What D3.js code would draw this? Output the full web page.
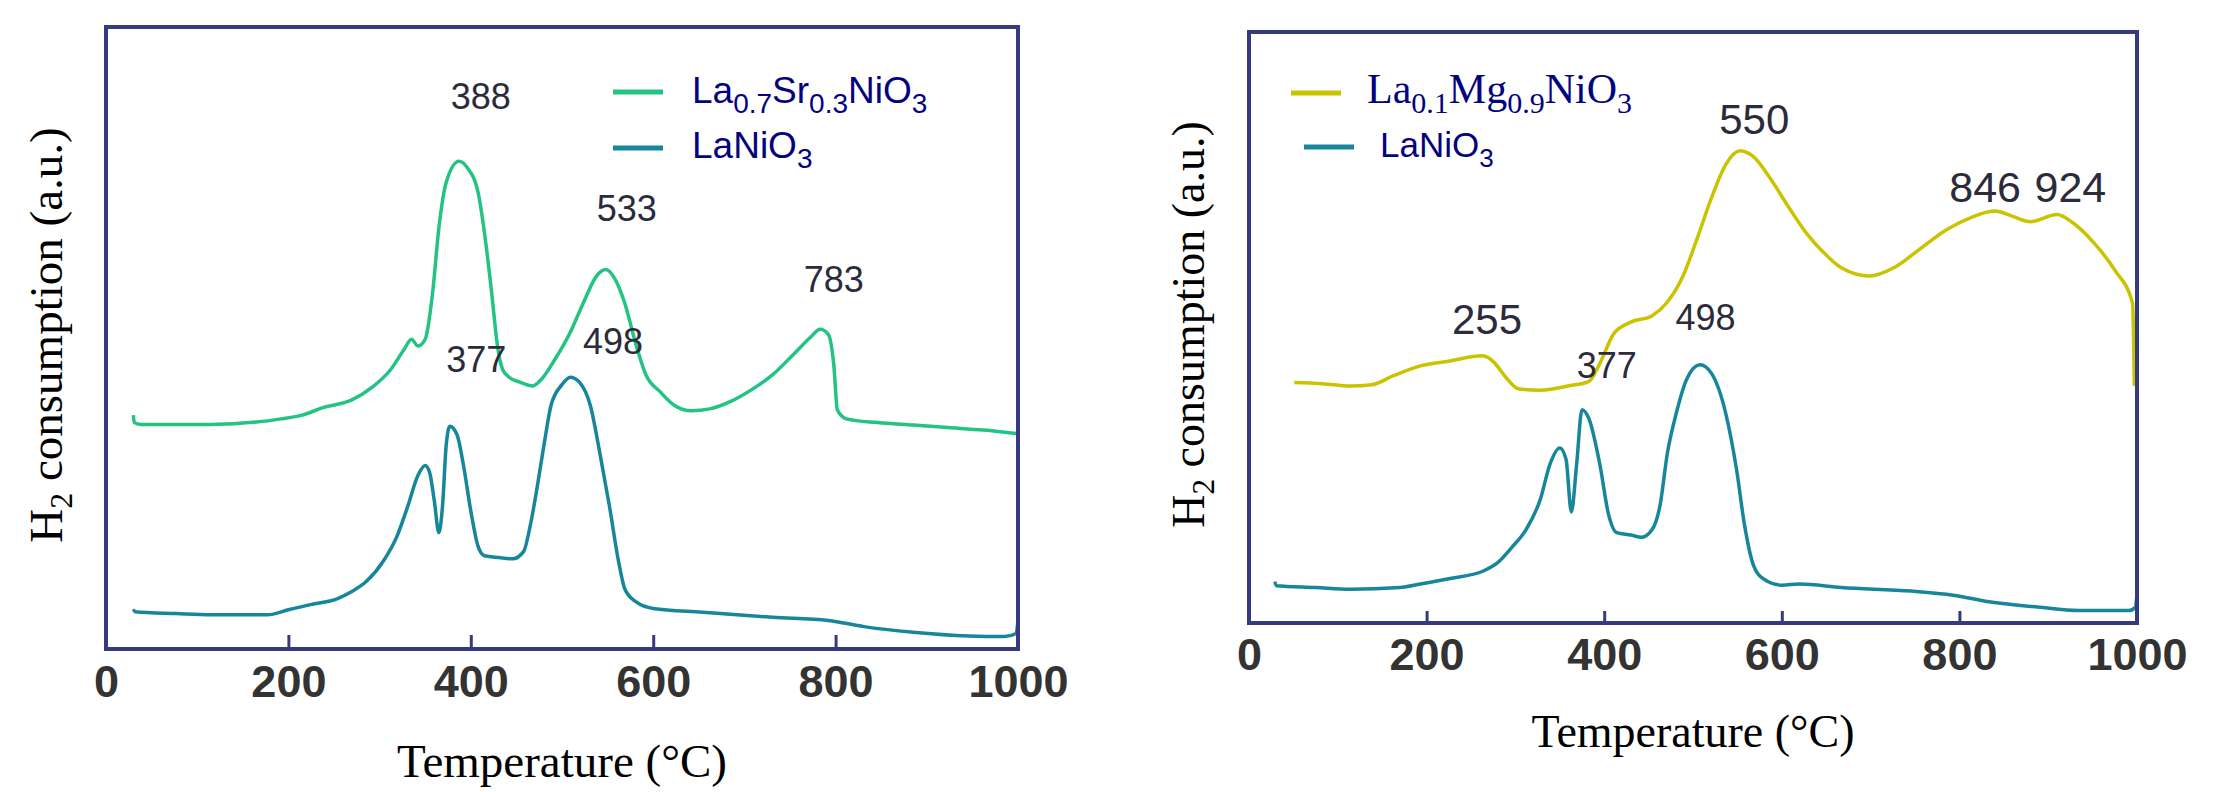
<!DOCTYPE html>
<html>
    <head>
        <style>
            body{ margin:0; background:#fff; }
            .tick text{ font-family: "Liberation Sans", Arial, sans-serif; font-weight:bold; font-size:45px; fill:#333; }
            .tick line{ stroke:#363b80; stroke-width:3px; }
            .axtitle{ font-family: "Liberation Serif", "Times New Roman", serif; fill:#000; }
            .peak{ font-family: "Liberation Sans", Arial, sans-serif; fill:#2b2b3b; text-anchor:middle; }
            .leg{ fill:#03037f; }
        </style>
    </head>
    <body>
        <svg width="2238" height="792"></svg>
        <script src="https://d3js.org/d3.v7.min.js"></script>
        <script>

        // TPR profiles, temperature (°C) vs H2 consumption (a.u., 0-100 of frame)
        var srT = [30,31,38,115,192,215,238,269,292,312,327,335,342,350,358,365,373,387,396,408,415,423,429,435,442,454,468,477,492,508,523,538,548,558,569,581,592,608,623,642,662,685,708,731,754,773,783,792,798,802,812,846,885,923,962,1000];
        var srV = [37.6,36.4,36.1,36.1,37.0,37.6,38.8,40.0,42.1,44.9,48.2,49.8,48.7,49.8,57.1,67.7,75.0,78.4,77.4,73.4,66.9,57.1,49.0,44.9,43.7,42.9,42.3,43.3,46.5,50.6,55.5,60.0,61.0,59.5,55.5,49.0,44.1,41.3,39.2,38.3,38.6,39.8,41.7,44.1,47.4,50.2,51.4,50.6,45.7,38.4,37.0,36.4,36.0,35.6,35.2,34.6];

        var la1T = [30,32,77,115,177,200,223,254,269,285,304,319,331,342,350,355,360,365,369,373,377,385,392,400,408,415,431,446,458,465,473,481,488,500,509,519,531,542,552,562,569,581,600,654,731,792,831,885,946,985,998,1000];
        var la1V = [6.4,6.0,5.7,5.5,5.5,6.3,7.1,8.1,9.2,10.8,14.1,18.1,23.0,27.9,29.5,28.3,23.8,18.7,23.0,32.7,35.8,34.4,29.5,22.2,16.5,15.0,14.7,14.5,15.7,19.7,26.2,33.5,39.2,42.5,43.7,42.9,39.2,31.1,23.0,14.1,9.6,7.6,6.5,5.9,5.1,4.6,3.6,2.7,2.1,2.0,2.5,4.7];

        var mgT = [51,83,114,138,162,193,225,263,276,288,304,328,359,383,395,411,430,454,470,489,505,521,537,553,568,588,608,627,647,667,699,726,754,785,813,840,860,880,910,927,951,975,995,997];
        var mgV = [40.7,40.5,40.1,40.3,41.8,43.5,44.3,45.2,44.1,41.8,39.6,39.4,40.1,40.9,43.9,49.0,50.9,52.0,54.1,58.8,65.2,72.0,77.6,79.9,78.9,75.0,70.3,66.1,62.7,60.1,58.7,60.1,63.1,66.5,68.6,69.7,68.8,67.9,69.1,67.8,64.4,59.7,54.1,40.1];

        var la2T = [29,31,75,114,170,193,225,264,280,296,312,328,339,350,357,363,369,375,383,395,405,414,430,442,454,463,471,481,493,508,521,537,549,558,568,580,600,620,667,746,793,833,888,935,991,998,1000];
        var la2V = [7.0,6.3,6.0,5.7,6.0,6.6,7.5,8.8,10.2,12.8,15.8,20.9,26.9,29.6,27.7,18.8,26.9,36.1,34.5,26.9,18.3,15.3,14.9,14.5,15.8,20.0,28.6,35.4,41.3,43.7,42.2,35.4,26.0,16.6,9.8,7.4,6.4,6.6,6.0,5.4,4.7,3.6,2.7,2.1,2.1,2.6,4.9];

        var xTicks = [0,200,400,600,800,1000];

        // peak labels: text, temperature, height
        var peaksL = [["388",411,86.8],["533",571,68.8],["783",798,57.4],["377",406,44.5],["498",556,47.4]];
        var peaksR = [["550",569,82.7],["846",829,71.2],["924",925,71.2],["255",268,48.9],["377",403,41.5],["498",514,49.6]];
        var peakSizeR = [42,43,43,42,36,36];

        var green = "#22c383", teal = "#16869a", yellow = "#c9c300", frame = "#363b80";

        var svg = d3.select("svg");

        function zip(a, b){ return a.map(function(d, i){ return [d, b[i]]; }); }

        function panel(box, series, peaks, sizes){
            var g = svg.append("g");
            var x = d3.scaleLinear().domain([0,1000]).range([box.left, box.right]);
            var y = d3.scaleLinear().domain([0,100]).range([box.bottom, box.top]);

            var line = d3.line()
                .x(function(d){ return x(d[0]); })
                .y(function(d){ return y(d[1]); })
                .curve(d3.curveMonotoneX);

            series.forEach(function(s){
                g.append("path")
                    .datum(s.data)
                    .attr("fill","none")
                    .attr("stroke", s.color)
                    .attr("stroke-width", 3.5)
                    .attr("stroke-linejoin","round")
                    .attr("d", line);
            });

            // x axis, ticks pointing inward
            var ax = g.append("g")
                .attr("transform","translate(0," + box.bottom + ")")
                .call(d3.axisBottom(x).tickValues(xTicks).tickFormat(d3.format("d"))
                    .tickSizeInner(-box.tick).tickSizeOuter(0).tickPadding(box.pad));
            ax.select(".domain").remove();
            ax.selectAll(".tick text").attr("fill", null);
            ax.selectAll(".tick line").attr("stroke", null);

            g.append("rect")
                .attr("x", box.left).attr("y", box.top)
                .attr("width", box.right - box.left)
                .attr("height", box.bottom - box.top)
                .attr("fill","none")
                .attr("stroke", frame)
                .attr("stroke-width", 4);

            g.selectAll(".peak")
                .data(peaks)
                .enter().append("text")
                .attr("class","peak")
                .attr("x", function(d){ return x(d[1]); })
                .attr("y", function(d){ return y(d[2]); })
                .style("font-size", function(d, i){ return (sizes ? sizes[i] : 36) + "px"; })
                .text(function(d){ return d[0]; });

            g.append("text")
                .attr("class","axtitle")
                .attr("x", (box.left + box.right) / 2)
                .attr("y", box.xlab)
                .attr("text-anchor","middle")
                .style("font-size", box.fs + "px")
                .text("Temperature (°C)");

            var yl = g.append("text")
                .attr("class","axtitle")
                .attr("transform","translate(" + box.ylab + "," + ((box.top + box.bottom) / 2 - 3) + ") rotate(-90)")
                .attr("text-anchor","middle")
                .style("font-size", box.fs + "px");
            yl.append("tspan").text("H");
            yl.append("tspan").attr("dy", 10).style("font-size", (box.fs * 0.68) + "px").text("2");
            yl.append("tspan").attr("dy", -10).text(" consumption (a.u.)");
            return g;
        }

        var left = panel({left:106, right:1018, top:27, bottom:649, tick:14, pad:16, xlab:777, ylab:62, fs:47},
            [{data: zip(srT, srV), color: green}, {data: zip(la1T, la1V), color: teal}], peaksL, null);

        var right = panel({left:1249, right:2137, top:32, bottom:623, tick:12, pad:15, xlab:747, ylab:1204, fs:46},
            [{data: zip(mgT, mgV), color: yellow}, {data: zip(la2T, la2V), color: teal}], peaksR, peakSizeR);

        // legends
        function formula(g, x, y, parts, font, size, sub){
            var t = g.append("text").attr("class","leg").attr("x", x).attr("y", y)
                .style("font-family", font).style("font-size", size + "px");
            var down = false;
            parts.forEach(function(p, i){
                var isSub = i % 2 == 1;
                var ts = t.append("tspan").text(p);
                if (isSub && !down){ ts.attr("dy", 10).style("font-size", sub + "px"); down = true; }
                else if (isSub){ ts.style("font-size", sub + "px"); }
                else if (down){ ts.attr("dy", -10); down = false; }
            });
        }
        var arial = '"Liberation Sans", Arial, sans-serif', times = '"Liberation Serif", "Times New Roman", serif';

        left.append("line").attr("x1",613).attr("x2",663).attr("y1",92).attr("y2",92).attr("stroke",green).attr("stroke-width",5);
        left.append("line").attr("x1",613).attr("x2",663).attr("y1",148).attr("y2",148).attr("stroke",teal).attr("stroke-width",5);
        formula(left, 692, 103, ["La","0.7","Sr","0.3","NiO","3"], arial, 37, 28);
        formula(left, 692, 158, ["LaNiO","3"], arial, 37, 28);

        right.append("line").attr("x1",1291).attr("x2",1341).attr("y1",93).attr("y2",93).attr("stroke",yellow).attr("stroke-width",5);
        right.append("line").attr("x1",1304).attr("x2",1354).attr("y1",147).attr("y2",147).attr("stroke",teal).attr("stroke-width",5);
        formula(right, 1367, 103, ["La","0.1","Mg","0.9","NiO","3"], times, 42, 30);
        formula(right, 1380, 157, ["LaNiO","3"], arial, 35, 26);

        </script>
    </body>
</html>
